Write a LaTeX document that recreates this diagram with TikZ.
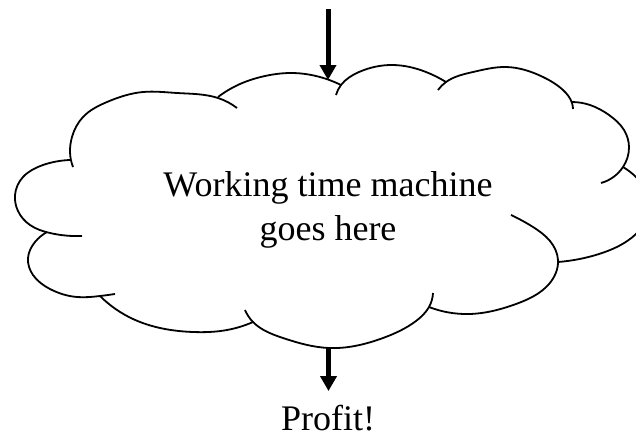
\documentclass[tikz,border=0pt]{standalone}
\usepackage{fontspec}
\setmainfont{Liberation Serif}
\usetikzlibrary{arrows.meta,hobby}
\tikzset{
  cloudline/.style={line width=1.8pt, line join=round, use Hobby shortcut},
  flow/.style={line width=5pt, -{Triangle[width=16pt,length=15pt]}},
  label/.style={font=\fontsize{36}{44}\selectfont, inner sep=0pt, align=center},
}
\begin{document}
\begin{tikzpicture}[x=1pt,y=-1pt]
\useasboundingbox (0,0) rectangle (636,437);
\clip (0,0) rectangle (636,437);
% cloud bumps (each with its inner tail)
\draw[cloudline] (237,108) .. (218,98) .. (177,93) .. (143,92) .. (107,102) .. (83,117) .. (72,137) .. (70,152) .. (73,167);
\draw[cloudline] (70,160) .. (43,165) .. (23,177) .. (15,195) .. (18,211) .. (30,225) .. (50,233) .. (82,236);
\draw[cloudline] (47,232) .. (35,242) .. (28,258) .. (33,275) .. (50,289) .. (77,297) .. (100,296) .. (115,294);
\draw[cloudline] (100,296) .. (133,319) .. (193,332) .. (227,330) .. (253,322);
\draw[cloudline] (245,310) .. (253,322) .. (283,338) .. (329,348) .. (383,338) .. (416,321) .. (429,307) .. (433,293);
\draw[cloudline] (429,307) .. (469,314) .. (516,304) .. (549,284) .. (558,260) .. (550,241) .. (533,227) .. (511,215);
\draw[cloudline] (558,262) .. (599,254) .. (636,234) .. (650,205) .. (636,177) .. (623,167);
\draw[cloudline] (572,102) .. (590,105) .. (609,115) .. (624,130) .. (629,147) .. (623,167) .. (601,183);
\draw[cloudline] (438,90) .. (446,82) .. (473,72) .. (506,67) .. (543,77) .. (563,90) .. (572,103) .. (573,109);
\draw[cloudline] (336,95) .. (341,85) .. (359,72) .. (393,65) .. (426,72) .. (446,82);
\draw[cloudline] (218,97) .. (240,84) .. (265,76) .. (290,73) .. (316,76) .. (341,85);
% text and connectors
\node[label] (cloudtext) at (328,209.6) {Working time machine\\goes here};
\coordinate (start) at (328,9);
\coordinate (ctop) at (328,80);
\coordinate (cbot) at (328.5,347);
\node[label, anchor=base] (profit) at (328,430) {Profit!};
\draw[flow] (start) -- (ctop);
\draw[flow, shorten >=13.4pt] (cbot) -- (profit.north -| cbot);
\end{tikzpicture}
\end{document}
